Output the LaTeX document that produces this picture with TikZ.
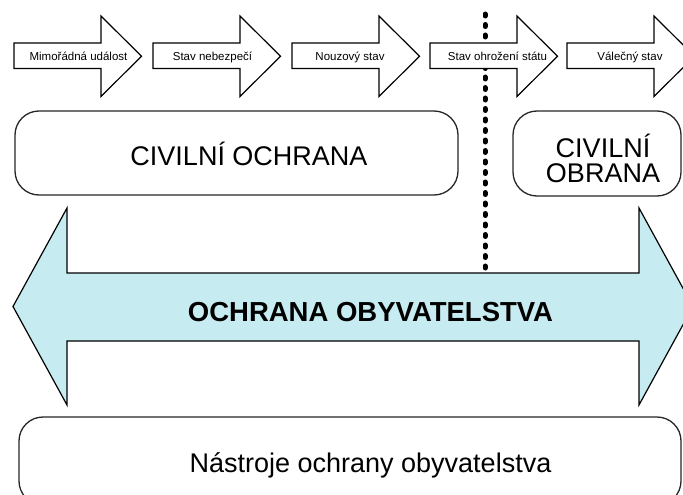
\documentclass[tikz,border=0pt]{standalone}
\usepackage{fontspec}
\setmainfont{Liberation Sans}
\definecolor{bandcyan}{RGB}{198,236,241}
\begin{document}
\begin{tikzpicture}[x=1pt,y=-1pt,
  stateshape/.style={draw=black, line width=1.2pt, fill=white, line join=miter},
  statelabel/.style={font=\fontsize{11.5}{13}\selectfont, anchor=base, inner sep=0pt},
  roundbox/.style={draw=black!85, line width=1.3pt, rounded corners=24pt, fill=white, inner sep=0pt},
  bigtext/.style={font=\fontsize{27}{25}\selectfont, anchor=base, inner sep=0pt, align=center},
  band/.style={draw=black, line width=1.2pt, fill=bandcyan, line join=miter},
  divider/.style={line width=5pt, line cap=round, dash pattern=on 2pt off 8.5pt}]
\useasboundingbox (0,0) rectangle (683,495);
\clip (0,0) rectangle (683,495);
% dotted divider
\coordinate (dtop) at (485,14);
\coordinate (dbot) at (485,272);
\draw[divider] (dtop) -- (dbot);
% state arrows
\foreach \x/\c/\t [count=\i] in {14/78.5/Mimořádná událost,153/212.5/Stav nebezpečí,292/350/Nouzový stav,430/497.5/Stav ohrožení státu,567/630/Válečný stav}{
  \draw[stateshape] (\x,43) -- (\x+87,43) -- (\x+87,16) -- (\x+127.5,56.25) -- (\x+87,96.5) -- (\x+87,68.5) -- (\x,68.5) -- cycle;
  \node[statelabel] (s\i) at (\c,60) {\t};
}
% upper boxes
\node[roundbox, minimum width=443pt, minimum height=84pt] (co) at (236.5,153) {};
\node[bigtext] (coT) at (249,165) {CIVILNÍ OCHRANA};
\node[roundbox, minimum width=168pt, minimum height=85pt] (cb) at (597,153.5) {};
\node[bigtext, anchor=north] (cbT) at (603,134) {CIVILNÍ\\OBRANA};
% double arrow band
\draw[band] (13,306.5) -- (67,208) -- (67,273) -- (639,273) -- (639,208) -- (693,306.5) -- (639,405) -- (639,341) -- (67,341) -- (67,405) -- cycle;
\node[bigtext, font=\fontsize{27.5}{25}\selectfont\bfseries] (oo) at (370.5,321) {OCHRANA OBYVATELSTVA};
% bottom box
\node[roundbox, minimum width=662pt, minimum height=88pt] (nb) at (350,461) {};
\node[bigtext] (nbT) at (370.5,472) {Nástroje ochrany obyvatelstva};
\end{tikzpicture}
\end{document}
